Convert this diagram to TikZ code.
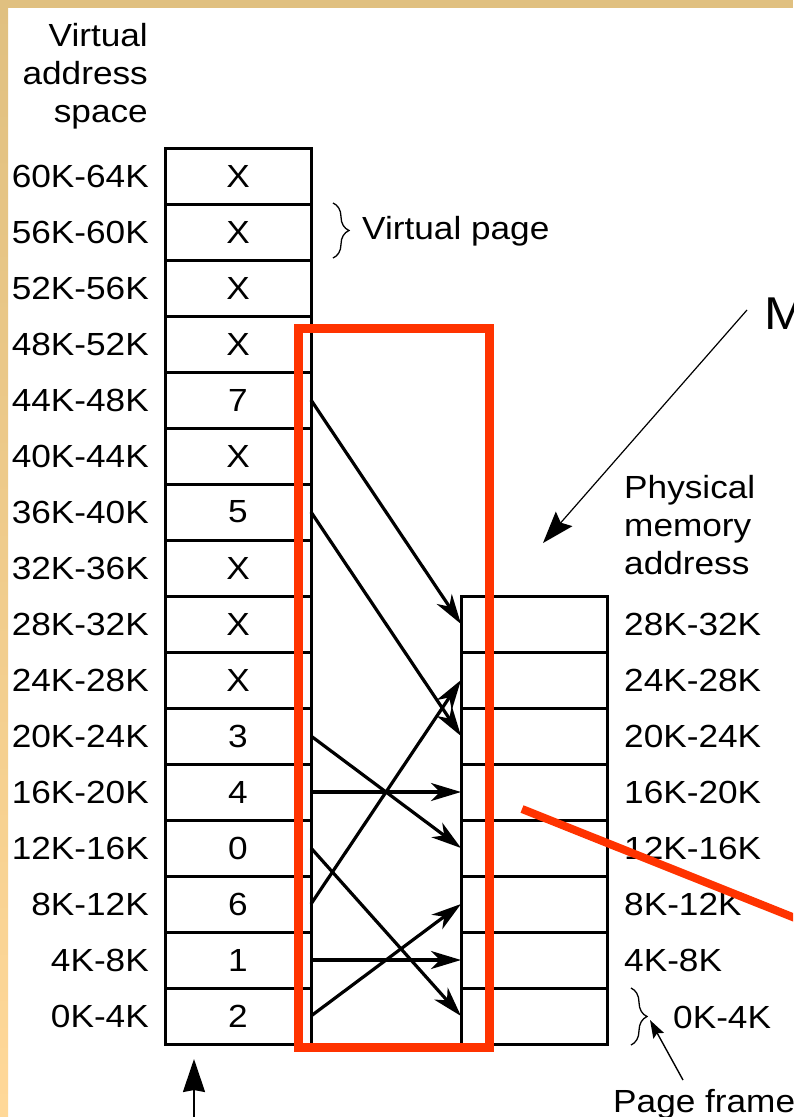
\documentclass[tikz,border=0pt]{standalone}
\usepackage{fontspec}
\setmainfont{Liberation Sans}[FakeStretch=1.1]
\usetikzlibrary{arrows.meta,decorations.pathreplacing}
\definecolor{tanA}{HTML}{E0C080}
\definecolor{tanB}{HTML}{FFD898}
\definecolor{redmark}{HTML}{FF3300}
\tikzset{
  cell/.style={draw, line width=3pt, minimum width=146pt, minimum height=56pt,
    inner sep=0pt, outer sep=0pt, font=\fontsize{32}{38}\selectfont},
  lab/.style={inner sep=0pt, font=\fontsize{32}{38}\selectfont},
  map/.style={line width=3.2pt, -{Stealth[length=30pt,width=18pt,inset=9pt]}},
  thinarrow/.style={line width=1.4pt},
  bracedraw/.style={line width=1.3pt, decorate, decoration={brace, amplitude=16pt}},
  redpen/.style={draw=redmark, line width=9pt},
}
\begin{document}
\begin{tikzpicture}[x=1pt,y=-1pt]
\useasboundingbox (0,0) rectangle (793,1117);
\clip (0,0) rectangle (793,1117);
\fill[white] (0,0) rectangle (793,1117);
% tan frame
\shade[top color=tanA, bottom color=tanB] (0,0) rectangle (8,1117);
\fill[tanA] (0,0) rectangle (793,8);

% header texts
\node[lab, align=right, anchor=north east] (vhead) at (148,23) {Virtual\\address\\space};
\node[lab, align=left, anchor=north west] (phead) at (624,475) {Physical\\memory\\address};

% virtual table
\foreach \c [count=\k from 0] in {X,X,X,X,7,X,5,X,X,X,3,4,0,6,1,2} {
  \node[cell] (v\k) at (238,176+56*\k) {\c};
  \pgfmathtruncatemacro\lo{60-4*\k}
  \pgfmathtruncatemacro\hi{64-4*\k}
  \node[lab, anchor=east] (vl\k) at (149,176+56*\k) {\lo K-\hi K};
}

% physical table
\foreach \f in {0,...,7} {
  \node[cell] (p\f) at (534,624+56*7-56*\f) {};
}
\foreach \f in {1,...,7} {
  \pgfmathtruncatemacro\lo{4*\f}
  \pgfmathtruncatemacro\hi{4*\f+4}
  \node[lab, anchor=west] (pl\f) at (624,624+56*7-56*\f) {\lo K-\hi K};
}
\node[lab, anchor=west] (pl0) at (673,1017) {0K-4K};

% mappings
\foreach \k/\f in {4/7,6/5,10/3,11/4,12/0,13/6,14/1,15/2}
  \draw[map] (v\k.east) -- (p\f.west);

% virtual page brace
\coordinate (vbt) at (333,203);
\coordinate (vbb) at (333,258);
\draw[bracedraw] (vbt) -- (vbb);
\node[lab, anchor=west] (vpage) at (362,231) {Virtual page};

% page frame brace
\coordinate (pbt) at (631,988);
\coordinate (pbb) at (631,1045);
\draw[bracedraw] (pbt) -- (pbb);
\node[lab, anchor=base west] (pframe) at (613,1112) {Page frame};
\coordinate (pftail) at (683,1080);
\coordinate (pftip) at (650,1020);
\draw[thinarrow, -{Stealth[length=18pt,width=12pt,inset=3pt]}] (pftail) -- (pftip);

% M label and arrow
\node[lab, font=\fontsize{46}{50}\selectfont, anchor=west] (mlab) at (764,314) {M};
\coordinate (mtail) at (747,310);
\coordinate (mtip) at (543,543);
\draw[thinarrow, line width=1.2pt, -{Stealth[length=32pt,width=22pt,inset=5pt]}] (mtail) -- (mtip);

% bottom arrow
\coordinate (btail) at (194,1125);
\coordinate (btip) at (194,1059);
\draw[line width=2pt, -{Stealth[length=33pt,width=22pt,inset=2pt]}] (btail) -- (btip);

% red annotations
\node[redpen, minimum width=191pt, minimum height=719pt, inner sep=0pt, outer sep=0pt] (redbox) at (394,687.5) {};
\coordinate (rls) at (522,809);
\coordinate (rle) at (810,924);
\draw[draw=redmark, line width=8pt] (rls) -- (rle);
\end{tikzpicture}
\end{document}
